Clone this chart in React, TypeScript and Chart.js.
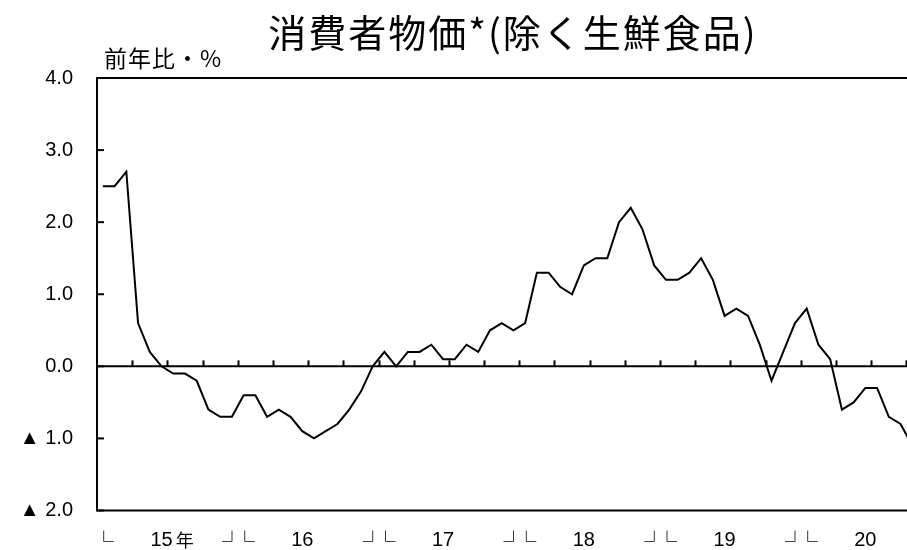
import React, { useEffect, useRef } from "react";
import { Chart, registerables } from "chart.js";

Chart.register(...registerables);

const TITLE = "消費者物価*(除く生鮮食品)";
const UNIT_LABEL = "前年比・%";

// x-axis year labels (each year = 12 monthly points, starting Jan 2015)
const years = ["15", "16", "17", "18", "19", "20"];
const firstYearSuffix = "年";

// y-axis ticks
const yTicks = [4, 3, 2, 1, 0, -1, -2];

// monthly values, year-on-year %, Jan 2015 onward
const values2015 = [2.5, 2.5, 2.7, 0.6, 0.2, 0.0, -0.1, -0.1, -0.2, -0.6, -0.7, -0.7];
const values2016 = [-0.4, -0.4, -0.7, -0.6, -0.7, -0.9, -1.0, -0.9, -0.8, -0.6, -0.35, 0.0];
const values2017 = [0.2, 0.0, 0.2, 0.2, 0.3, 0.1, 0.1, 0.3, 0.2, 0.5, 0.6, 0.5];
const values2018 = [0.6, 1.3, 1.3, 1.1, 1.0, 1.4, 1.5, 1.5, 2.0, 2.2, 1.9, 1.4];
const values2019 = [1.2, 1.2, 1.3, 1.5, 1.2, 0.7, 0.8, 0.7, 0.3, -0.2, 0.2, 0.6];
const values2020 = [0.8, 0.3, 0.1, -0.6, -0.5, -0.3, -0.3, -0.7, -0.8, -1.1];

const values = [
  ...values2015,
  ...values2016,
  ...values2017,
  ...values2018,
  ...values2019,
  ...values2020,
];

const NUM_FONT = "'Liberation Sans', 'Noto Sans CJK JP', sans-serif";
const CJK_FONT = "'Noto Sans CJK JP', sans-serif";

function fmtTick(v: number): string {
  if (v < 0) return "▲ " + Math.abs(v).toFixed(1);
  return v.toFixed(1);
}

const decoPlugin = {
  id: "deco",
  beforeDatasetsDraw(chart: any) {
    const { ctx, chartArea: a, scales } = chart;
    const x = scales.x;
    const y = scales.y;
    ctx.save();
    ctx.strokeStyle = "#000";
    ctx.lineWidth = 2;
    const line = (x1: number, y1: number, x2: number, y2: number) => {
      ctx.beginPath();
      ctx.moveTo(x1, y1);
      ctx.lineTo(x2, y2);
      ctx.stroke();
    };
    // frame: top, bottom, left
    line(a.left - 1, a.top, a.right + 2, a.top);
    line(a.left - 1, a.bottom, a.right + 2, a.bottom);
    line(a.left, a.top, a.left, a.bottom);
    // zero line
    const y0 = y.getPixelForValue(0);
    line(a.left, y0, a.right + 2, y0);
    // inward y ticks
    for (const v of yTicks) {
      const py = y.getPixelForValue(v);
      line(a.left, py, a.left + 7, py);
    }
    // quarterly ticks on the zero line
    for (let q = 1; q * 3 - 0.5 <= x.max; q++) {
      const px = Math.round(x.getPixelForValue(q * 3 - 0.5)) + 0.5;
      line(px, y0, px, y0 - 6);
    }
    ctx.restore();
  },
  afterDraw(chart: any) {
    const { ctx, scales } = chart;
    const x = scales.x;
    ctx.save();
    ctx.fillStyle = "#000";
    // title
    ctx.font = `38px ${CJK_FONT}`;
    (ctx as any).letterSpacing = "2px";
    ctx.textAlign = "center";
    ctx.textBaseline = "middle";
    ctx.fillText(TITLE, 513, 33);
    // unit label
    ctx.font = `23px ${CJK_FONT}`;
    (ctx as any).letterSpacing = "1px";
    ctx.textAlign = "left";
    ctx.fillText(UNIT_LABEL, 104, 58);
    (ctx as any).letterSpacing = "0px";
    // x labels
    const labY = 540;
    years.forEach((yr, i) => {
      const start = i * 12;
      const mid = x.getPixelForValue(start + 5);
      ctx.font = `20px ${NUM_FONT}`;
      ctx.textAlign = "center";
      ctx.textBaseline = "middle";
      ctx.fillText(yr, mid, labY);
      if (i === 0) {
        const w = ctx.measureText(yr).width;
        ctx.font = `18px ${CJK_FONT}`;
        ctx.textAlign = "left";
        ctx.fillText(firstYearSuffix, mid + w / 2 + 3, labY);
      }
      ctx.font = `20px ${CJK_FONT}`;
      ctx.textAlign = "center";
      ctx.textBaseline = "alphabetic";
      const pStart = x.getPixelForValue(start);
      ctx.fillText("└", pStart + 1, 549);
      const pEnd = x.getPixelForValue(start + 11);
      if (start + 11 <= x.max) ctx.fillText("┘", pEnd, 549);
    });
    ctx.restore();
  },
};

export default function App() {
  const ref = useRef<HTMLCanvasElement | null>(null);
  useEffect(() => {
    if (!ref.current) return;
    const chart = new Chart(ref.current, {
      type: "line",
      data: {
        datasets: [
          {
            data: values.map((v, i) => ({ x: i, y: v })),
            borderColor: "#000",
            borderWidth: 2,
            pointRadius: 0,
            tension: 0,
            fill: false,
          },
        ],
      },
      options: {
        animation: false,
        responsive: false,
        devicePixelRatio: 1,
        layout: { padding: { top: 78, bottom: 39.5, left: 0, right: 0 } },
        plugins: {
          legend: { display: false },
          tooltip: { enabled: false },
          title: { display: false },
        },
        scales: {
          x: {
            type: "linear",
            display: false,
            min: -0.5,
            max: 68.55,
          },
          y: {
            type: "linear",
            min: -2,
            max: 4,
            afterFit: (s: any) => {
              s.width = 97;
            },
            afterBuildTicks: (s: any) => {
              s.ticks = yTicks.map((v) => ({ value: v }));
            },
            grid: { display: false, drawTicks: false },
            border: { display: false },
            ticks: {
              padding: 24,
              color: "#000",
              font: { family: NUM_FONT, size: 20 },
              callback: (v: any) => fmtTick(Number(v)),
            },
          },
        },
      },
      plugins: [decoPlugin],
    });
    return () => chart.destroy();
  }, []);
  return (
    <div style={{ position: "absolute", left: 0, top: 0, width: 907, height: 550, background: "#fff" }}>
      <canvas ref={ref} width={907} height={550} style={{ display: "block" }} />
    </div>
  );
}
